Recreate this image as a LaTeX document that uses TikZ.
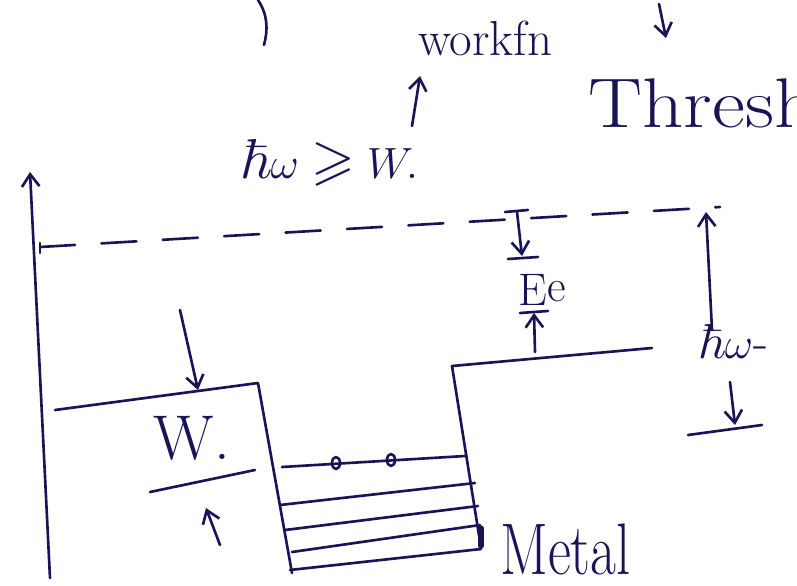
\documentclass[tikz,border=0pt]{standalone}
\usepackage{amssymb}
\usetikzlibrary{arrows.meta}
\definecolor{ink}{RGB}{25,20,85}
\begin{document}
\begin{tikzpicture}[x=0.02cm,y=-0.02cm,
  pen/.style={draw=ink, line width=1.5pt, line cap=round, line join=round},
  tip/.style={-{Straight Barb[length=7pt,width=10pt]}},
  lbl/.style={text=ink, inner sep=0pt}]
\useasboundingbox (0,0) rectangle (797,585);
\clip (0,0) rectangle (797,585);
% fragments at top
\draw[pen] (258,0) .. controls (268,15) and (268,30) .. (264,45);
\draw[pen,tip] (659,4) -- (666,38);
% texts at top
\node[lbl,anchor=base west,font=\fontsize{28}{32}\selectfont] (wf) at (418,55) {workfn};
\coordinate (wfa) at (412,126);
\coordinate (wfb) at (420,76);
\draw[pen,tip] (wfa) -- (wfb);
\node[lbl,anchor=base west,font=\fontsize{32}{36}\selectfont] (cond) at (240,178) {$\hbar\omega \geqslant W.$};
\node[lbl,anchor=base west,font=\fontsize{40}{44}\selectfont,xscale=1.15] (thr) at (588,127) {Thresho};
% axis
\coordinate (ax0) at (50,578);
\coordinate (ax1) at (30,172);
\draw[pen,tip] (ax0) -- (ax1);
% dashed vacuum level
\coordinate (dl) at (40,247);
\coordinate (dr) at (720,207);
\draw[pen,dash pattern=on 20pt off 15pt] (dl) -- (dr);
\draw[pen] (40,243) -- (40,253);
% Ee markers
\draw[pen] (505,212) -- (528,210);
\draw[pen,tip] (517,212) -- (522,256);
\draw[pen] (508,259) -- (538,257);
\node[lbl,anchor=base west,font=\fontsize{26}{30}\selectfont] (ee) at (518,305) {E\raisebox{2pt}{e}};
\draw[pen] (520,313) -- (548,311);
\draw[pen,tip] (535,352) -- (534,313);
% right metal block
\coordinate (r0) at (452,366);
\coordinate (r1) at (652,348);
\coordinate (r2) at (481,548);
\draw[pen] (r1) -- (r0) -- (r2);
% hbar omega
\draw[pen,tip] (712,330) -- (706,212);
\node[lbl,anchor=base west,font=\fontsize{28}{32}\selectfont] (hw) at (698,358) {$\hbar\omega$-};
\draw[pen,tip] (730,382) -- (735,425);
\draw[pen] (688,435) -- (762,425);
% left block
\coordinate (l0) at (55,410);
\coordinate (l1) at (258,383);
\coordinate (l2) at (292,573);
\draw[pen] (l0) -- (l1) -- (l2);
\draw[pen,tip] (180,310) -- (198,390);
\node[lbl,font=\fontsize{36}{40}\selectfont] (w) at (192,438) {W.};
\draw[pen] (150,492) -- (255,470);
\draw[pen,tip] (220,545) -- (206,508);
% electron levels
\draw[pen] (282,467) -- (465,456);
\draw[pen] (280,505) -- (475,483);
\draw[pen] (285,530) -- (478,506);
\draw[pen] (292,552) -- (480,525);
\draw[pen] (290,570) -- (481,549);
\draw[pen] (336,463) ellipse (4 and 6);
\draw[pen] (391,460) ellipse (4 and 6);
\draw[draw=ink,line width=3pt,line cap=round] (481,528) -- (481,546);
\node[lbl,anchor=base west,font=\fontsize{32}{36}\selectfont,yscale=1.3] (metal) at (500,574) {Metal};
\end{tikzpicture}
\end{document}
